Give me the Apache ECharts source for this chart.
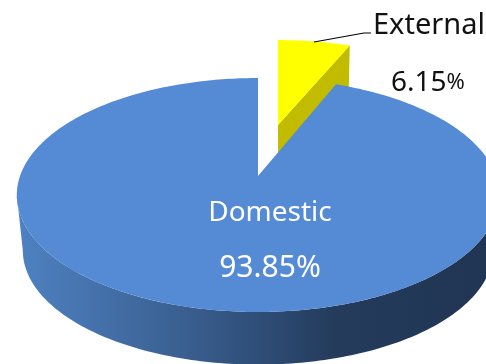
<!DOCTYPE html>
<html>
<head>
<meta charset="utf-8">
<style>html,body{margin:0;padding:0;background:#fff}#chart{width:486px;height:364px}</style>
<script src="https://cdn.jsdelivr.net/npm/echarts@6/dist/echarts.min.js"></script>
</head>
<body>
<div id="chart"></div>
<script>
// Share of revenue by source, drawn as a tilted pie with one slice pulled out.
const categories = ['External', 'Domestic'];
const shares = [6.15, 93.85];
const percentSuffix = '%';

// Perspective of the pie disc: apex on screen, radii and foreshortening.
const view = { apexX: 258, apexY: 176, rx: 238, ry: 113.9, k: 0.1624 };
const faceLayout = {
  External: { dx: 20, dy: -51, sx: 0.92, sy: 0.867, depth: 45 },
  Domestic: { dx: 0, dy: 0, sx: 1, sy: 1, depth: 56, wallScale: 0.975 }
};
const total = shares.reduce((a, b) => a + b, 0);

// Project a point of the unit disc (fraction clockwise from 12 o'clock) to the screen.
function project(fraction, layout, scale, drop) {
  const a = fraction * Math.PI * 2;
  const X = Math.sin(a), Y = Math.cos(a), d = 1 + view.k * Y;
  return [
    view.apexX + layout.dx + scale * layout.sx * view.rx * X / d,
    view.apexY + layout.dy + drop - scale * layout.sy * view.ry * Y / d
  ];
}
function arc(from, to, layout, scale, drop) {
  const steps = Math.max(4, Math.ceil(Math.abs(to - from) * 360));
  const pts = [];
  for (let i = 0; i <= steps; i++) {
    pts.push(project(from + (to - from) * i / steps, layout, scale, drop));
  }
  return pts;
}

function renderSlice(params, api) {
  const index = params.dataIndex;
  const name = categories[index];
  const layout = faceLayout[name];
  const start = shares.slice(0, index).reduce((a, b) => a + b, 0) / total;
  const end = start + api.value(0) / total;
  const apex = [view.apexX + layout.dx, view.apexY + layout.dy];
  const children = [];

  if (name === 'External') {
    // Cut wall of the pulled-out slice, then its top face.
    const rightEdge = project(end, layout, 1, 0);
    children.push({
      type: 'polygon',
      shape: { points: [apex, rightEdge,
        [rightEdge[0] - 1, rightEdge[1] + layout.depth],
        [apex[0], apex[1] + layout.depth]] },
      style: { fill: '#C2BC00' }
    });
    children.push({
      type: 'polygon',
      shape: { points: [apex].concat(arc(start, end, layout, 1, 0)) },
      style: { fill: '#FFFF00' }
    });
    children.push({
      type: 'polyline',
      shape: { points: [[314, 42], [364, 33], [371, 33]] },
      style: { stroke: '#000', lineWidth: 1.2, fill: null }
    });
    children.push({
      type: 'text',
      style: { x: 373, y: 26, text: name, fill: '#111', font: '29px "Noto Sans"',
        align: 'left', verticalAlign: 'middle' }
    });
    children.push({
      type: 'text',
      style: { x: 391, y: 83,
        text: '{v|' + api.value(0) + '}{p|' + percentSuffix + '}',
        align: 'left', verticalAlign: 'middle',
        rich: {
          v: { fill: '#111', font: '28px "Noto Sans"' },
          p: { fill: '#111', font: '22px "Noto Sans"' }
        } }
    });
  } else {
    // Outer rim between the two silhouette tangents, shaded left to right.
    const tangent = Math.acos(-view.k) / (Math.PI * 2);
    const upper = arc(tangent, 1 - tangent, layout, 1, 0);
    const lower = arc(1 - tangent, tangent, layout, layout.wallScale, layout.depth);
    children.push({
      type: 'polygon',
      shape: { points: upper.concat(lower) },
      style: {
        fill: new echarts.graphic.LinearGradient(0, 0, 1, 0, [
          { offset: 0, color: '#4E82C2' },
          { offset: 0.3, color: '#3D6497' },
          { offset: 0.5, color: '#2F4E78' },
          { offset: 0.66, color: '#243B5C' },
          { offset: 1, color: '#203552' }
        ])
      }
    });
    children.push({
      type: 'polygon',
      shape: { points: [apex].concat(arc(start, end, layout, 1, 0)) },
      style: { fill: '#558AD4' }
    });
    children.push({
      type: 'text',
      style: { x: 270, y: 213, text: name, fill: '#fff', font: '28px "Noto Sans"',
        align: 'center', verticalAlign: 'middle' }
    });
    children.push({
      type: 'text',
      style: { x: 270, y: 268, text: api.value(0) + percentSuffix, fill: '#fff',
        font: '30px "Noto Sans"', align: 'center', verticalAlign: 'middle' }
    });
  }
  return { type: 'group', children };
}

const chart = echarts.init(document.getElementById('chart'), null, { renderer: 'canvas' });
chart.setOption({
  animation: false,
  backgroundColor: '#fff',
  series: [{
    type: 'custom',
    coordinateSystem: 'none',
    renderItem: renderSlice,
    data: shares.map(v => [v]),
    silent: true
  }]
});
</script>
</body>
</html>
